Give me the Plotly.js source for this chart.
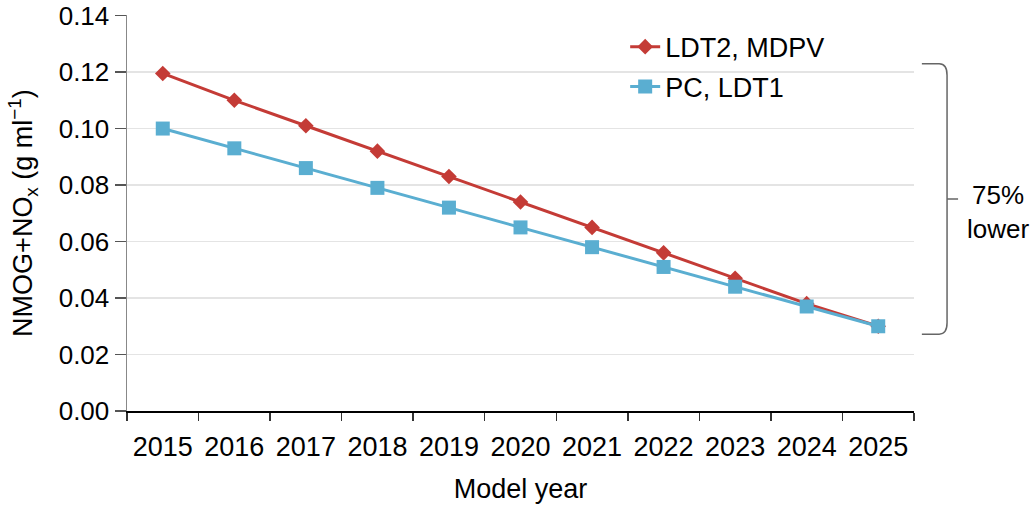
<!DOCTYPE html>
<html>
<head>
<meta charset="utf-8">
<script src="https://cdn.plot.ly/plotly-3.0.1.min.js"></script>
<style>html,body{margin:0;padding:0;background:#fff}#chart{width:1031px;height:505px}</style>
</head>
<body>
<div id="chart"></div>
<script>
const years = [2015, 2016, 2017, 2018, 2019, 2020, 2021, 2022, 2023, 2024, 2025];
const ldt2Mdpv = [0.1195, 0.110, 0.101, 0.092, 0.083, 0.074, 0.065, 0.056, 0.047, 0.038, 0.030];
const pcLdt1 = [0.100, 0.093, 0.086, 0.079, 0.072, 0.065, 0.058, 0.051, 0.044, 0.037, 0.030];
const yTicks = [0, 0.02, 0.04, 0.06, 0.08, 0.10, 0.12, 0.14];
const yTickText = ['0.00', '0.02', '0.04', '0.06', '0.08', '0.10', '0.12', '0.14'];
const braceTop = 0.1229, braceBottom = 0.0272, braceMid = 0.0751;

const FONT = 'Liberation Sans, Arial, Helvetica, sans-serif';
const RED = '#c43b36', BLUE = '#5aaed1';

const traces = [
  {x: years, y: ldt2Mdpv, name: 'LDT2, MDPV', mode: 'lines+markers', legend: 'legend',
   line: {color: RED, width: 3}, marker: {symbol: 'diamond', size: 12, color: RED}},
  {x: years, y: pcLdt1, name: 'PC, LDT1', mode: 'lines+markers', legend: 'legend2',
   line: {color: BLUE, width: 3}, marker: {symbol: 'square', size: 14, color: BLUE}}
];

const bx0 = 1.010, bx1 = 1.032, bx2 = 1.042, bx3 = 1.056;
const bracePath = `M ${bx0},${braceTop} L ${bx1},${braceTop} Q ${bx2},${braceTop} ${bx2},${braceTop-0.004} ` +
  `L ${bx2},${braceBottom+0.004} Q ${bx2},${braceBottom} ${bx1},${braceBottom} L ${bx0},${braceBottom} ` +
  `M ${bx2},${braceMid} L ${bx3},${braceMid}`;

const legendBase = {xanchor: 'left', yanchor: 'middle', bgcolor: 'rgba(0,0,0,0)',
                    font: {size: 27, family: FONT}, tracegroupgap: 0};

const layout = {
  width: 1031, height: 505,
  margin: {l: 127, r: 117, t: 15, b: 94},
  paper_bgcolor: '#fff', plot_bgcolor: '#fff',
  font: {family: FONT, size: 27, color: '#000'},
  showlegend: true,
  legend: Object.assign({x: 0.633, y: 0.919}, legendBase),
  legend2: Object.assign({x: 0.633, y: 0.818}, legendBase),
  xaxis: {
    range: [2014.5, 2025.5], tickmode: 'array', tickvals: years, ticktext: years.map(String),
    ticks: '', showgrid: false, zeroline: false, showline: true, linecolor: '#000', linewidth: 1.5,
    tickfont: {size: 27, family: FONT}, ticklabelstandoff: 11,
    minor: {tick0: 2014.5, dtick: 1, ticks: 'outside', ticklen: 8, tickwidth: 1.5, tickcolor: '#333', showgrid: false},
    title: {text: 'Model year', font: {size: 27, family: FONT}, standoff: 18}
  },
  yaxis: {
    range: [0, 0.1402], tickmode: 'array', tickvals: yTicks, ticktext: yTickText,
    ticks: 'outside', ticklen: 11, tickwidth: 1.5, tickcolor: '#555',
    showgrid: true, gridcolor: '#e4e4e4', gridwidth: 1.5, zeroline: false,
    showline: true, linecolor: '#888', linewidth: 1.5, ticklabeloverflow: 'allow',
    tickfont: {size: 26, family: FONT},
    title: {text: 'NMOG+NO<sub>x</sub> (g ml<sup>−1</sup>)', font: {size: 27, family: FONT}, standoff: 18}
  },
  shapes: [
    {type: 'path', xref: 'paper', yref: 'y', path: bracePath, line: {color: '#666', width: 1.5}}
  ],
  annotations: [
    {xref: 'paper', yref: 'y', x: 1.107, y: 0.0705, text: '75%<br>lower', showarrow: false,
     xanchor: 'center', yanchor: 'middle', align: 'center', font: {size: 26, family: FONT}}
  ]
};

Plotly.newPlot('chart', traces, layout, {displayModeBar: false, staticPlot: true});
</script>
</body>
</html>
